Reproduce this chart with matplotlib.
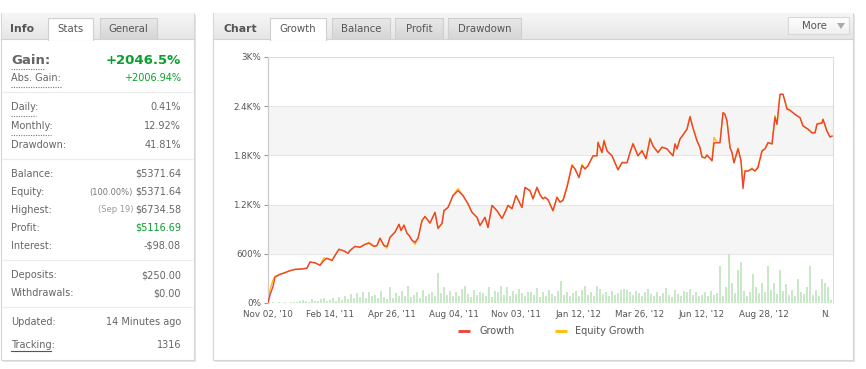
import numpy as np
import matplotlib
matplotlib.use("Agg")
import matplotlib.pyplot as plt
from matplotlib.patches import Rectangle, Polygon

plt.rcParams['font.family'] = ['DejaVu Sans']

# ---------------- data ----------------
day = [0, 2, 5, 7, 12, 17, 21, 27, 34, 39, 42, 47, 52, 56, 59, 64, 68, 71, 76, 80, 82, 87,
       92, 97, 101, 106, 109, 112, 116, 119, 122, 127, 131, 133, 136, 139, 141, 144, 147, 150,
       154, 157, 162, 167, 170, 174, 176, 180, 185, 190, 195, 200, 204, 209, 212, 217, 220,
       224, 229, 234, 237, 240, 244, 248, 254, 257, 262, 265, 269, 272, 275, 277, 280, 285,
       289, 292, 295, 299, 304, 307, 311, 314, 317, 320, 325, 329, 330, 334, 336, 339, 344,
       347, 350, 354, 359, 362, 365, 370, 374, 378, 382, 385, 390, 394, 399, 402, 405, 407,
       409, 412, 415, 419, 422, 425, 429, 432, 434, 437, 439, 444, 446, 449, 452, 455, 457,
       459, 462, 464, 466, 470, 473, 475, 477, 480, 484, 487, 490, 494, 497, 500, 504, 507,
       509, 512, 515, 519, 522, 527, 532, 535, 540, 544, 547, 549, 554, 555, 559, 562, 564]
growth = [0, 100, 200, 315, 350, 370, 390, 410, 415, 425, 500, 490, 460, 520, 545, 520, 600,
          655, 635, 605, 640, 690, 680, 715, 730, 690, 700, 790, 700, 690, 800, 865, 960, 885,
          950, 850, 825, 765, 740, 790, 1005, 1055, 975, 1105, 910, 970, 1125, 1165, 1310,
          1370, 1310, 1210, 1105, 1045, 945, 1045, 920, 1190, 1125, 1030, 1105, 1190, 1150,
          1310, 1165, 1410, 1370, 1270, 1410, 1320, 1270, 1290, 1260, 1125, 1290, 1230, 1250,
          1410, 1675, 1635, 1530, 1675, 1635, 1675, 1795, 1795, 1955, 1835, 1975, 1855, 1795,
          1710, 1625, 1710, 1710, 1835, 1940, 1795, 1855, 1760, 2000, 1915, 1835, 1900, 1880,
          1835, 1795, 1940, 1880, 2000, 2050, 2120, 2270, 2135, 1975, 1895, 1780, 1770, 1805,
          1735, 1950, 1955, 1955, 2320, 2300, 2220, 1895, 1835, 1710, 1880, 1735, 1395, 1610,
          1610, 1635, 1610, 1650, 1855, 1880, 1955, 1940, 2265, 2180, 2545, 2545, 2365, 2350,
          2300, 2260, 2160, 2120, 2075, 2075, 2180, 2195, 2240, 2095, 2025, 2035]
equity = [0, 160, 280, 325, 350, 370, 390, 410, 415, 425, 500, 490, 460, 550, 545, 520, 600,
          655, 635, 605, 640, 690, 680, 715, 740, 690, 700, 790, 700, 670, 800, 865, 960, 885,
          950, 850, 825, 765, 715, 790, 1005, 1055, 975, 1105, 910, 970, 1135, 1165, 1310,
          1395, 1310, 1210, 1105, 1045, 945, 1045, 920, 1190, 1125, 1030, 1105, 1190, 1150,
          1310, 1165, 1410, 1370, 1270, 1410, 1320, 1270, 1290, 1260, 1125, 1290, 1230, 1260,
          1430, 1690, 1635, 1530, 1690, 1635, 1675, 1795, 1795, 1965, 1835, 1990, 1855, 1795,
          1710, 1625, 1720, 1710, 1835, 1950, 1795, 1865, 1760, 2015, 1915, 1835, 1900, 1880,
          1835, 1795, 1940, 1880, 2000, 2050, 2120, 2280, 2135, 1985, 1895, 1780, 1770, 1805,
          1735, 2020, 1955, 1955, 2325, 2300, 2220, 1895, 1835, 1710, 1890, 1735, 1460, 1610,
          1610, 1645, 1610, 1670, 1855, 1880, 1955, 1940, 2285, 2180, 2545, 2545, 2380, 2350,
          2300, 2260, 2160, 2120, 2075, 2075, 2190, 2195, 2240, 2095, 2025, 2035]

bar_heights = [5, 8, 3, 10, 5, 12, 6, 15, 8, 10, 20,
               40, 25, 15, 50, 30, 20, 45, 60, 25, 35, 55, 30, 70,
               40, 90, 50, 110, 60, 120, 70, 130, 55, 140, 80, 95, 60, 150, 70, 45, 200,
               60, 120, 80, 150, 90, 205, 70, 100, 130, 60, 160, 80, 110, 140, 90, 365, 120, 200, 100, 150,
               90, 130, 80, 170, 205, 110, 70, 160, 100, 140, 120, 90, 200, 75, 150, 130, 205, 100, 190,
               80, 150, 110, 170, 120, 90, 130,
               140, 100, 180, 70, 130, 90, 160, 110, 80, 150, 265, 100, 130, 90,
               120, 150, 80, 160, 205, 100, 130, 90, 205, 170, 110, 140, 80, 150, 100, 120, 160, 170,
               160, 140, 100, 150, 120, 90, 140, 170, 110, 80, 130, 90, 120, 180, 100, 70, 160, 110,
               90, 150, 130, 170, 100, 140, 90,
               100, 130, 90, 150, 100, 120, 450, 80, 200, 600, 250, 120, 400, 500, 150, 80, 130, 350,
               200, 120, 250, 140, 450, 160, 250, 110, 400, 150, 230, 100, 160, 80, 290, 140, 110,
               200, 450, 100, 160, 80, 290, 240, 190, 40]
bar_days = np.arange(len(bar_heights)) * 3 + 2

y_ticks = [0, 600, 1200, 1800, 2400, 3000]
y_labels = ["0%", "600%", "1.2K%", "1.8K%", "2.4K%", "3K%"]
x_ticks = [0, 62, 124, 186, 248, 310, 372, 434, 496, 558]
x_labels = ["Nov 02, '10", "Feb 14, '11", "Apr 26, '11", "Aug 04, '11", "Nov 03, '11",
            "Jan 12, '12", "Mar 26, '12", "Jun 12, '12", "Aug 28, '12", "N."]

info_rows = [
    ("Daily:", "0.41%", 107), ("Monthly:", "12.92%", 126), ("Drawdown:", "41.81%", 145),
    ("Balance:", "$5371.64", 174), ("Equity:", "$5371.64", 192), ("Highest:", "$6734.58", 210),
    ("Profit:", "$5116.69", 228), ("Interest:", "-$98.08", 246),
    ("Deposits:", "$250.00", 275), ("Withdrawals:", "$0.00", 293),
    ("Updated:", "14 Minutes ago", 322), ("Tracking:", "1316", 345),
]

# ---------------- figure ----------------
W, H = 866, 369
fig = plt.figure(figsize=(W / 100, H / 100), dpi=100)
bg = fig.add_axes([0, 0, 1, 1])
bg.set_xlim(0, W)
bg.set_ylim(H, 0)
bg.axis('off')

TXT = '#666666'
GREEN = '#0a9e2e'

def grad_rect(x0, y0, x1, y1, c_top, c_bot, z=2):
    t = np.linspace(0, 1, 32)[:, None]
    a = np.array(matplotlib.colors.to_rgb(c_top))
    b = np.array(matplotlib.colors.to_rgb(c_bot))
    img = (a[None, None, :] * (1 - t[..., None]) + b[None, None, :] * t[..., None])
    img = np.repeat(img, 2, axis=1)
    bg.imshow(img, extent=(x0, x1, y1, y0), aspect='auto', zorder=z, interpolation='bilinear')

def panel(x0, y0, x1, y1):
    bg.add_patch(Rectangle((x0 + 2, y0 + 2), x1 - x0, y1 - y0, facecolor='#e4e4e4', edgecolor='none', zorder=0))
    bg.add_patch(Rectangle((x0, y0), x1 - x0, y1 - y0, facecolor='white', edgecolor='#d6d6d6', lw=0.8, zorder=1))
    grad_rect(x0 + 0.5, y0 + 0.5, x1 - 0.5, 39, '#f6f6f6', '#e6e6e6')
    bg.plot([x0, x1], [39, 39], color='#d2d2d2', lw=0.8, zorder=3)

def tab(x0, x1, label, active):
    if active:
        bg.add_patch(Rectangle((x0, 18), x1 - x0, 22, facecolor='white', edgecolor='none', zorder=4))
        bg.plot([x0, x0, x1, x1], [40, 18, 18, 40], color='#d0d0d0', lw=0.8, zorder=5)
    else:
        grad_rect(x0, 18, x1, 39, '#e9e9e9', '#d6d6d6', z=4)
        bg.plot([x0, x0, x1, x1], [39, 18, 18, 39], color='#cfcfcf', lw=0.8, zorder=5)
    bg.text((x0 + x1) / 2, 29, label, ha='center', va='center', fontsize=7.3, color='#555555', zorder=6)

# left panel
panel(1, 13, 194, 360)
bg.text(10, 28.5, "Info", fontsize=7.8, fontweight='bold', color='#555555', va='center', zorder=6)
tab(48, 93, "Stats", True)
tab(100, 157, "General", False)

bg.text(11, 60, "Gain:", fontsize=9.5, fontweight='bold', color='#666666', va='center', zorder=6)
bg.text(181, 60, "+2046.5%", fontsize=9.5, fontweight='bold', color=GREEN, va='center', ha='right', zorder=6)
bg.text(11, 78, "Abs. Gain:", fontsize=7, color=TXT, va='center', zorder=6)
bg.text(181, 78, "+2006.94%", fontsize=7, color=GREEN, va='center', ha='right', zorder=6)
for xa, xb, yy in [(11, 45, 68.5), (11, 61, 87), (11, 36, 116), (11, 51, 135)]:
    bg.plot([xa, xb], [yy, yy], color='#777777', lw=0.8, ls=(0, (1, 1.2)), zorder=6)
for yy in [92, 159, 260, 307]:
    bg.plot([2, 192], [yy, yy], color='#ececec', lw=0.9, zorder=3)

for lab, val, yy in info_rows:
    bg.text(11, yy, lab, fontsize=7, color=TXT, va='center', zorder=6)
    col = GREEN if lab == "Profit:" else TXT
    bg.text(181, yy, val, fontsize=7, color=col, va='center', ha='right', zorder=6)
bg.text(133, 192, "(100.00%)", fontsize=6, color='#777777', va='center', ha='right', zorder=6)
bg.text(133, 210, "(Sep 19)", fontsize=6, color='#999999', va='center', ha='right', zorder=6)
bg.plot([11, 51], [350.5, 350.5], color='#555555', lw=0.8, zorder=6)

# right panel
panel(213, 13, 853, 360)
bg.text(224, 28.5, "Chart", fontsize=7.8, fontweight='bold', color='#555555', va='center', zorder=6)
tab(270, 326, "Growth", True)
tab(332, 390, "Balance", False)
tab(395, 443, "Profit", False)
tab(448, 521, "Drawdown", False)
grad_rect(788, 17, 849, 34, '#ffffff', '#f0f0f0', z=4)
bg.add_patch(Rectangle((788, 17), 61, 17, facecolor='none', edgecolor='#d8d8d8', lw=0.8, zorder=5))
bg.text(814, 26, "More", fontsize=7.3, color='#555555', va='center', ha='center', zorder=6)
bg.add_patch(Polygon([[837, 23], [845, 23], [841, 29]], closed=True, facecolor='#aaaaaa', edgecolor='none', zorder=6))

# legend
bg.plot([458, 470], [331, 331], color='#ee4035', lw=2, solid_capstyle='butt', zorder=6)
bg.text(480, 331, "Growth", fontsize=7, color='#555555', va='center', zorder=6)
bg.plot([555, 567], [331, 331], color='#ffbb00', lw=2, solid_capstyle='butt', zorder=6)
bg.text(575, 331, "Equity Growth", fontsize=7, color='#555555', va='center', zorder=6)

# ---------------- chart ----------------
L, R, T, B = 268, 833, 57, 303
ax = fig.add_axes([L / W, 1 - B / H, (R - L) / W, (B - T) / H])
ax.set_facecolor('none')
ax.set_xlim(0, R - L)
ax.set_ylim(0, 3000)
for lo, hi in [(600, 1200), (1800, 2400)]:
    ax.axhspan(lo, hi, color='#f5f5f5', zorder=0, lw=0)
for yv in y_ticks:
    ax.axhline(yv, color='#e6e6e6', lw=0.8, zorder=0.5)

ax.bar(bar_days, bar_heights, width=2.2, color='#c8e8c8', edgecolor='none', zorder=1)
ax.plot(day, equity, color='#ffbb00', lw=1.0, zorder=2)
ax.plot(day, growth, color='#ee4035', lw=1.0, zorder=3)

for s in ['top', 'right']:
    ax.spines[s].set_color('#dddddd')
    ax.spines[s].set_linewidth(0.8)
ax.spines['left'].set_color('#cccccc')
ax.spines['left'].set_linewidth(0.9)
ax.spines['bottom'].set_visible(False)

ax.set_yticks(y_ticks)
ax.set_yticklabels(y_labels)
ax.set_xticks(x_ticks)
ax.set_xticklabels(x_labels)
ax.tick_params(axis='y', length=3, color='#999999', labelsize=6.3, labelcolor='#555555', pad=2)
ax.tick_params(axis='x', length=0, labelsize=6.3, labelcolor='#555555', pad=5)

fig.savefig("out.png", dpi=100)
